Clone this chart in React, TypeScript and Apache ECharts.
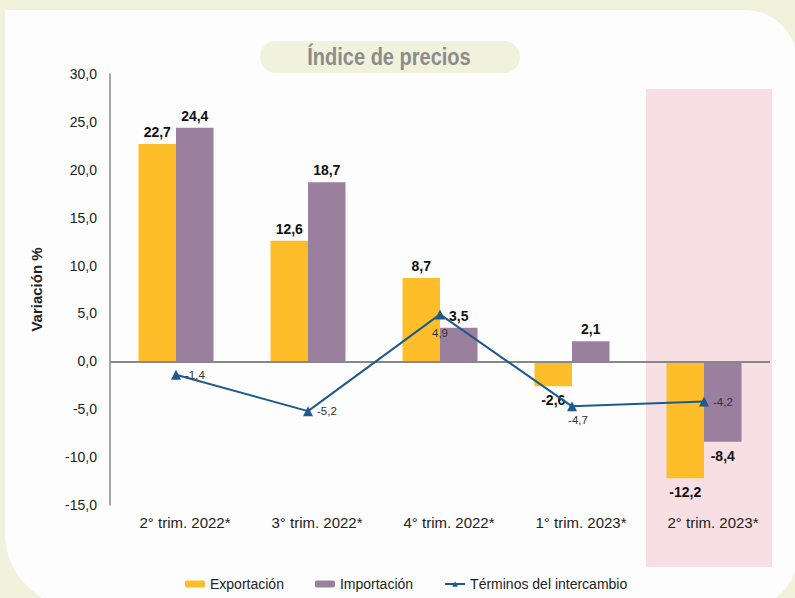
import React, { useEffect, useRef } from "react";
import * as echarts from "echarts";

const categories = ["2° trim. 2022*", "3° trim. 2022*", "4° trim. 2022*", "1° trim. 2023*", "2° trim. 2023*"];
const exportacion = [22.7, 12.6, 8.7, -2.6, -12.2];
const importacion = [24.4, 18.7, 3.5, 2.1, -8.4];
const terminos = [-1.4, -5.2, 4.9, -4.7, -4.2];
const yTicks = { min: -15, max: 30, interval: 5 };
const termLabelPos = ["right", "right", "bottom", "bottom", "right"];

const fmt = (v: number) => v.toFixed(1).replace(".", ",");
const FONT = "'Liberation Sans', Arial, Helvetica, sans-serif";

export default function App() {
  const ref = useRef<HTMLDivElement>(null);
  useEffect(() => {
    if (!ref.current) return;
    const chart = echarts.init(ref.current, null, { renderer: "svg" });
    const barLabel = (v: number) => ({
      value: v,
      label: { position: v >= 0 ? "top" : "bottom", distance: v >= 0 ? 5 : 7 },
    });
    chart.setOption({
      animation: false,
      backgroundColor: "#F0F2DC",
      textStyle: { fontFamily: FONT },
      graphic: [
        { type: "rect", z: -10, shape: { x: 5, y: 10, width: 792, height: 598, r: [0, 52, 52, 75] }, style: { fill: "#FDFDFD" } },
        { type: "rect", z: -9, shape: { x: 646, y: 89, width: 126, height: 478 }, style: { fill: "#F7DFE3" } },
        { type: "rect", z: -8, shape: { x: 260, y: 41, width: 260, height: 32, r: 16 }, style: { fill: "#F0F2DC" } },
        {
          type: "text", z: 10, x: 389, y: 57, scaleX: 0.87,
          style: {
            text: "Índice de precios", fill: "#8C8C8C",
            font: "bold 23px 'Liberation Sans', Arial, sans-serif",
            align: "center", verticalAlign: "middle",
          },
        },
      ],
      grid: { left: 110, right: 25, top: 74, bottom: 93 },
      legend: {
        left: 180, top: 572, itemGap: 31, itemWidth: 20, itemHeight: 7,
        textStyle: { fontSize: 14, color: "#222", fontFamily: FONT },
        data: ["Exportación", "Importación", "Términos del intercambio"],
      },
      xAxis: {
        type: "category", data: categories,
        axisLine: { show: false }, axisTick: { show: false },
        axisLabel: { fontSize: 15, color: "#222", margin: 10, padding: [0, 0, 0, 18], fontFamily: FONT },
      },
      yAxis: {
        type: "value", min: yTicks.min, max: yTicks.max, interval: yTicks.interval,
        name: "Variación %", nameLocation: "middle", nameGap: 66,
        nameTextStyle: { fontSize: 15, fontWeight: "bold", color: "#222", fontFamily: FONT },
        axisLine: { show: true, lineStyle: { color: "#888", width: 1.5 } },
        axisTick: { show: false }, splitLine: { show: false },
        axisLabel: { fontSize: 14, color: "#222", margin: 13, formatter: (v: number) => fmt(v), fontFamily: FONT },
      },
      series: [
        {
          name: "Exportación", type: "bar", barWidth: 37.5, barGap: "0%",
          itemStyle: { color: "#FDBE2A" },
          data: exportacion.map(barLabel),
          label: { show: true, fontSize: 14, fontWeight: "bold", color: "#111", formatter: (p: any) => fmt(p.value), fontFamily: FONT },
          markLine: {
            silent: true, symbol: "none", label: { show: false },
            lineStyle: { color: "#888", width: 2, type: "solid" },
            data: [{ yAxis: 0 }],
          },
        },
        {
          name: "Importación", type: "bar", barWidth: 37.5, barGap: "0%",
          itemStyle: { color: "#9B7F9E" },
          data: importacion.map(barLabel),
          label: { show: true, fontSize: 14, fontWeight: "bold", color: "#111", formatter: (p: any) => fmt(p.value), fontFamily: FONT },
        },
        {
          name: "Términos del intercambio", type: "line", z: 5,
          symbol: "triangle", symbolSize: 10,
          itemStyle: { color: "#1F5A8C" }, lineStyle: { color: "#1F5A8C", width: 2 },
          data: terminos.map((v, i) => ({
            value: v,
            label: {
              position: termLabelPos[i],
              distance: termLabelPos[i] === "right" ? 4 : i === 3 ? 3 : 8,
              offset: i === 3 ? [6, 0] : [0, 0],
            },
          })),
          label: { show: true, fontSize: 11.5, color: "#333", formatter: (p: any) => fmt(p.value), fontFamily: FONT },
        },
      ],
    });
    return () => chart.dispose();
  }, []);
  return <div ref={ref} style={{ position: "fixed", left: 0, top: 0, width: 795, height: 598 }} />;
}
